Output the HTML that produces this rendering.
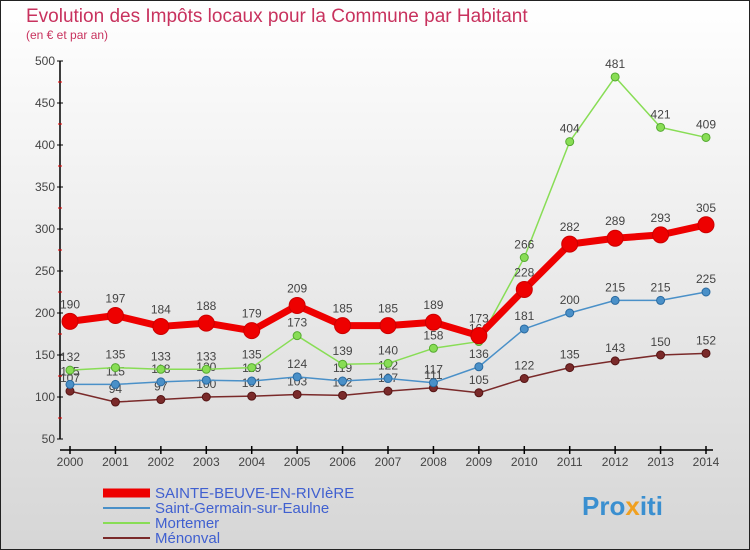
<!DOCTYPE html>
<html><head><meta charset="utf-8"><style>
body{margin:0;width:750px;height:550px;overflow:hidden;font-family:"Liberation Sans",sans-serif}
svg{display:block}
</style></head><body>
<svg id="c" width="750" height="550">
<defs><linearGradient id="bg" x1="0" y1="0" x2="0" y2="1"><stop offset="0" stop-color="#ffffff"/><stop offset="1" stop-color="#d6d6d6"/></linearGradient></defs>
<rect x="0.5" y="0.5" width="749" height="549" fill="url(#bg)" stroke="#222"/>
<text x="26" y="22" font-size="19" fill="#c8325e">Evolution des Impôts locaux pour la Commune par Habitant</text>
<text x="26" y="39" font-size="12" fill="#c8325e">(en € et par an)</text>
<g id="axes"></g><g id="series"></g>
<g>
<line x1="103" y1="493" x2="150" y2="493" stroke="#e00" stroke-width="9"/>
<text x="155" y="498" font-size="15" fill="#4060d0">SAINTE-BEUVE-EN-RIVIèRE</text>
<line x1="103" y1="508" x2="150" y2="508" stroke="#4a90c8" stroke-width="2"/>
<text x="155" y="513" font-size="15" fill="#4060d0">Saint-Germain-sur-Eaulne</text>
<line x1="103" y1="523" x2="150" y2="523" stroke="#88dd55" stroke-width="2"/>
<text x="155" y="528" font-size="15" fill="#4060d0">Mortemer</text>
<line x1="103" y1="538" x2="150" y2="538" stroke="#7a2a2a" stroke-width="2"/>
<text x="155" y="543" font-size="15" fill="#4060d0">Ménonval</text>
</g>
<text x="582" y="515" font-size="26" font-weight="bold" fill="#3a8fd0">Pro<tspan fill="#f0a020">x</tspan>iti</text>
</svg>
<script>
const years=[2000,2001,2002,2003,2004,2005,2006,2007,2008,2009,2010,2011,2012,2013,2014];
const yTicks=[50,100,150,200,250,300,350,400,450,500];
const sainteBeuve=[190,197,184,188,179,209,185,185,189,173,228,282,289,293,305];
const saintGermain=[115,115,118,120,119,124,119,122,117,136,181,200,215,215,225];
const mortemer=[132,135,133,133,135,173,139,140,158,166,266,404,481,421,409];
const menonval=[107,94,97,100,101,103,102,107,111,105,122,135,143,150,152];
const NS="http://www.w3.org/2000/svg";
const xs=i=>70+i*(706-70)/14;
const ys=v=>439-(v-50)*(378/450);
function mk(t,a,p){const e=document.createElementNS(NS,t);for(const k in a)e.setAttribute(k,a[k]);p.appendChild(e);return e;}
const ax=document.getElementById('axes');
let l=mk('line',{x1:60,y1:61,x2:60,y2:439,stroke:'#000','stroke-width':1.5},ax);


l=mk('line',{x1:60,y1:450,x2:713,y2:450,stroke:'#000','stroke-width':1.5},ax);


yTicks.forEach((v,i)=>{
 mk('line',{x1:57,y1:ys(v),x2:63,y2:ys(v),stroke:'#000'},ax);
 if(i<yTicks.length-1)mk('line',{x1:58,y1:ys(v+25),x2:62,y2:ys(v+25),stroke:'#e00'},ax);
 const t=mk('text',{x:55,y:ys(v)+4,'font-size':12,fill:'#444','text-anchor':'end'},ax);t.textContent=v;
 
 
});
years.forEach((y,i)=>{
 mk('line',{x1:xs(i),y1:446,x2:xs(i),y2:454,stroke:'#000','stroke-width':1.5},ax);
 const t=mk('text',{x:xs(i),y:466,'font-size':12,fill:'#444','text-anchor':'middle'},ax);t.textContent=y;
 
 
});
const sg=document.getElementById('series');
function draw(data,color,w,r,name,stroke){
 const g=mk('g',{},sg);
 
 
 const p=mk('polyline',{points:data.map((v,i)=>xs(i)+','+ys(v)).join(' '),fill:'none',stroke:color,'stroke-width':w,'stroke-linejoin':'round'},g);
 
 
 data.forEach((v,i)=>{
  const c=mk('circle',{cx:xs(i),cy:ys(v),r:r,fill:color,stroke:stroke,'stroke-width':1},g);
  
  
  const t=mk('text',{x:xs(i),y:ys(v)-r-5,'font-size':12,fill:'#444','text-anchor':'middle'},g);t.textContent=v;
  
  
 });
}
draw(menonval,'#7a2a2a',1.5,4,'menonval','#551515');
draw(saintGermain,'#4a90c8',1.5,4,'saint-germain','#2a6aa0');
draw(mortemer,'#88dd55',1.5,4,'mortemer','#55aa30');
draw(sainteBeuve,'#ee0000',7,8,'sainte-beuve','#cc0000');
</script>
</body></html>
